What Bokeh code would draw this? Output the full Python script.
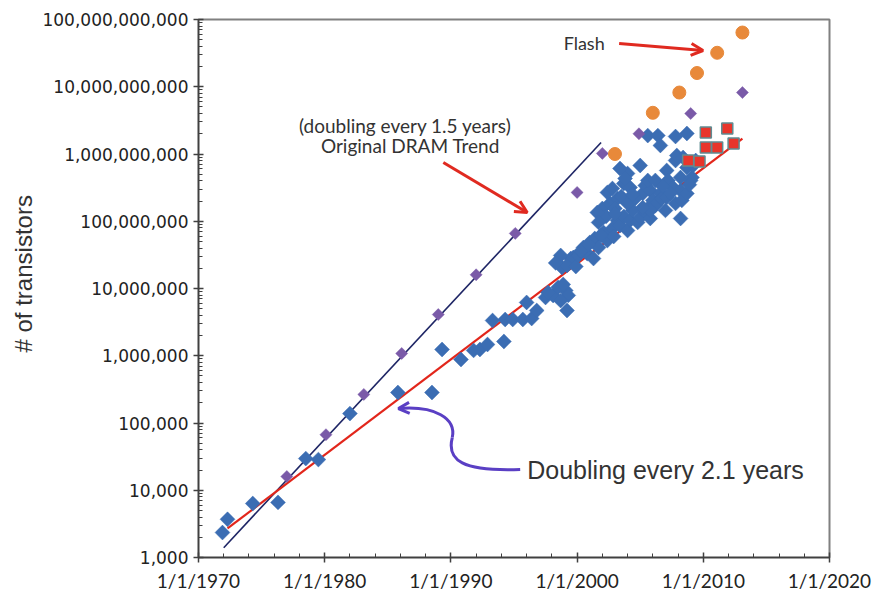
from bokeh.plotting import figure
from bokeh.models import FixedTicker, Arrow, OpenHead, Label, ColumnDataSource, Title
from bokeh.embed import file_html
from bokeh.resources import INLINE
import math

# ---------------- data ----------------
x_tick_years = [1970, 1980, 1990, 2000, 2010, 2020]
x_tick_labels = ["1/1/1970", "1/1/1980", "1/1/1990", "1/1/2000", "1/1/2010", "1/1/2020"]
x_minor_years = [1972, 1974, 1976, 1978, 1982, 1984, 1986, 1988, 1992, 1994, 1996, 1998,
                 2002, 2004, 2006, 2008, 2012, 2014, 2016, 2018]
y_tick_values = [1000, 10000, 100000, 1000000, 10000000, 100000000,
                 1000000000, 10000000000, 100000000000]
y_tick_labels = ["1,000", "10,000", "100,000", "1,000,000", "10,000,000", "100,000,000",
                 "1,000,000,000", "10,000,000,000", "100,000,000,000"]
y_title = "# of transistors"

# Original DRAM (purple diamonds)
dram_years = [1977.0, 1980.1, 1983.1, 1986.1, 1989.0, 1992.0, 1995.1, 2000.0, 2002.0, 2004.9, 2009.0, 2013.1]
dram_counts = [16e3, 67e3, 266e3, 1.08e6, 4.1e6, 16e6, 66e6, 268e6, 1.02e9, 2.0e9, 4.0e9, 8.2e9]

# Flash (orange circles)
flash_years = [2003.0, 2006.0, 2008.1, 2009.5, 2011.1, 2013.1]
flash_counts = [1.0e9, 4.1e9, 8.2e9, 16e9, 32e9, 64e9]

# Recent parts (red squares)
recent_years = [2008.8, 2009.7, 2010.2, 2011.9, 2010.2, 2011.1, 2012.4]
recent_counts = [800e6, 775e6, 2.09e9, 2.4e9, 1.25e9, 1.25e9, 1.43e9]

# Processors etc. (blue diamonds)
cpu_years = [1971.9, 1972.3, 1974.3, 1976.3, 1978.5, 1979.5, 1982.0, 1985.8, 1988.5, 1989.3,
             1990.8, 1991.8, 1992.3, 1992.9, 1994.2, 1993.3, 1994.3, 1994.9, 1995.7, 1996.4,
             1996.0, 1996.8, 1997.5, 1998.1, 1999.1, 1999.2, 1997.7, 1998.5, 1998.9, 1999.3,
             1998.7, 1998.8, 1999.5, 1999.2, 1999.7, 1999.9, 2000.1, 2000.5, 2000.8, 2001.0,
             2001.3, 2001.4, 2001.7, 2002.1, 2002.4, 2002.8, 2003.2, 2002.9, 2003.4, 2003.7,
             2004.0, 2004.2, 2004.4, 2004.8, 2005.0, 2005.4, 2005.6, 2005.8, 2006.2, 2002.0,
             2002.3, 2002.6, 2002.4, 2002.8, 2003.2, 2003.5, 2003.7, 2004.0, 2004.0, 2004.2,
             2003.4, 2003.8, 2005.0, 2005.2, 2005.4, 2005.8, 2005.6, 2006.2, 2006.0, 2006.3,
             2006.6, 2006.7, 2007.0, 2007.1, 2007.1, 2007.2, 2007.6, 2007.8, 2007.8, 2007.9,
             2008.2, 2008.2, 2008.3, 2008.4, 2008.7, 2008.7, 2009.0, 2009.1, 2009.2, 2009.4,
             2008.2, 2005.8, 2004.6, 2003.0, 2005.6, 2006.4, 2006.6, 2007.8, 2008.7, 2001.6,
             2001.7, 1998.7, 1998.3, 2000.3, 2000.9, 2001.9, 2003.0, 2004.4, 2005.2, 2006.8,
             2007.4, 2008.9]
cpu_counts = [2.35e3, 3.7e3, 6.35e3, 6.6e3, 29.6e3, 28.6e3, 138e3, 284e3, 284e3, 1.24e6,
              880e3, 1.2e6, 1.24e6, 1.47e6, 1.63e6, 3.34e6, 3.46e6, 3.46e6, 3.46e6, 3.58e6,
              6.2e6, 4.71e6, 7.35e6, 7.87e6, 9.33e6, 4.71e6, 8.73e6, 10.4e6, 11.5e6, 7.9e6,
              6.6e6, 20.5e6, 27.9e6, 22e6, 28.9e6, 21.2e6, 31e6, 40.7e6, 33.1e6, 48.3e6,
              27.9e6, 55.4e6, 40.7e6, 68e6, 51.7e6, 78e6, 103e6, 59.3e6, 86.5e6, 118e6,
              72.8e6, 103e6, 145e6, 96e6, 114e6, 135e6, 155e6, 110e6, 171e6, 155e6,
              118e6, 184e6, 268e6, 307e6, 218e6, 233e6, 364e6, 184e6, 513e6, 318e6,
              608e6, 432e6, 675e6, 259e6, 340e6, 287e6, 404e6, 404e6, 204e6, 184e6,
              259e6, 218e6, 145e6, 226e6, 569e6, 404e6, 318e6, 800e6, 184e6, 950e6,
              287e6, 448e6, 204e6, 887e6, 259e6, 630e6, 404e6, 448e6, 675e6, 800e6,
              110e6, 145e6, 218e6, 155e6, 1.88e9, 1.88e9, 1.34e9, 1.82e9, 2.02e9, 135e6,
              96e6, 31e6, 24e6, 36e6, 45e6, 62e6, 130e6, 250e6, 160e6, 330e6,
              260e6, 350e6]

# Trend lines
dram_trend_years = [1972.0, 2001.9]
dram_trend_counts = [1.4e3, 1.48e9]
moore_trend_years = [1972.3, 2013.1]
moore_trend_counts = [2.7e3, 1.7e9]

# ---------------- styles ----------------
BLUE = "#3b6db3"
PURPLE = "#7a5aa8"
ORANGE = "#e8893a"
RED = "#e8352b"
NAVY = "#1e2565"
REDLINE = "#e2261b"
ARROW_RED = "#e02a20"
CURVE = "#5a3fc4"
TEXT = "#333333"

p = figure(width=873, height=595, y_axis_type="log",
           x_range=(1970, 2020), y_range=(1e3, 1e11),
           output_backend="svg", toolbar_location=None,
           min_border_left=198, min_border_right=44, min_border_top=19, min_border_bottom=38)
p.grid.visible = False
p.outline_line_color = "#808080"
p.outline_line_width = 2
p.background_fill_color = "white"
p.border_fill_color = "white"

# axes
p.xaxis.ticker = FixedTicker(ticks=x_tick_years, minor_ticks=x_minor_years)
p.xaxis.major_label_overrides = dict(zip(x_tick_years, x_tick_labels))
p.yaxis.ticker = FixedTicker(ticks=y_tick_values,
                             minor_ticks=[m * v for v in y_tick_values[:-1] for m in range(2, 10)])
p.yaxis.major_label_overrides = dict(zip(y_tick_values, y_tick_labels))

for ax in (p.xaxis[0], p.yaxis[0]):
    ax.axis_line_color = "#404040"
    ax.axis_line_width = 1.5
    ax.major_tick_line_color = "#404040"
    ax.major_tick_line_width = 1.5
    ax.minor_tick_line_color = "#404040"
    ax.major_tick_in = 5
    ax.major_tick_out = 5
    ax.minor_tick_in = 4
    ax.minor_tick_out = 0
    ax.major_label_text_color = "#222222"

p.xaxis.major_label_text_font = "Lato"
p.xaxis.major_label_text_font_size = "19px"
p.xaxis.major_label_standoff = 6
p.yaxis.major_label_text_font = "DejaVu Sans"
p.yaxis.major_label_text_font_size = "17px"
p.yaxis.major_label_standoff = 5

# y-axis title as a side title, placed a little above the frame centre
p.add_layout(Title(text=y_title, align="left", offset=205, standoff=6,
                   text_font="Liberation Sans", text_font_size="24px",
                   text_font_style="normal", text_color=TEXT), "left")

# trend lines
p.line(dram_trend_years, dram_trend_counts, line_color=NAVY, line_width=1.6)
p.line(moore_trend_years, moore_trend_counts, line_color=REDLINE, line_width=2.2)

# points
rot = math.pi / 4
p.scatter(cpu_years, cpu_counts, marker="square", angle=rot, size=10.5,
          fill_color=BLUE, line_color=BLUE, line_width=0.5)
p.scatter(dram_years, dram_counts, marker="square", angle=rot, size=8.5,
          fill_color=PURPLE, line_color=PURPLE, line_width=0.5)
p.scatter(flash_years, flash_counts, marker="circle", size=13,
          fill_color=ORANGE, line_color=ORANGE)
p.scatter(recent_years, recent_counts, marker="square", size=11,
          fill_color=RED, line_color="#5f8c92", line_width=1.5)

# annotations
p.add_layout(Label(x=2000.56, y=45e9, text="Flash", text_font="Lato", text_font_size="18px",
                   text_color=TEXT, text_align="center", text_baseline="middle"))
p.add_layout(Arrow(end=OpenHead(line_color=ARROW_RED, line_width=3, size=12),
                   x_start=2003.33, y_start=44e9, x_end=2009.98, y_end=34.6e9,
                   line_color=ARROW_RED, line_width=3))

p.add_layout(Label(x=1986.39, y=2.65e9, text="(doubling every 1.5 years)", text_font="Lato",
                   text_font_size="19px", text_color=TEXT, text_align="center",
                   text_baseline="middle"))
p.add_layout(Label(x=1986.79, y=1.34e9, text="Original DRAM Trend", text_font="Lato",
                   text_font_size="19px", text_color=TEXT, text_align="center",
                   text_baseline="middle"))
p.add_layout(Arrow(end=OpenHead(line_color=ARROW_RED, line_width=3, size=12),
                   x_start=1989.40, y_start=748e6, x_end=1996.05, y_end=135e6,
                   line_color=ARROW_RED, line_width=3))

p.add_layout(Label(x=1996.05, y=19.7e3, text="Doubling every 2.1 years",
                   text_font="Liberation Sans", text_font_size="25px", text_color=TEXT,
                   text_align="left", text_baseline="middle"))
curve = ColumnDataSource(dict(
    x0=[1995.49, 1990.11], y0=[20.4e3, 60.8e3],
    x1=[1990.11, 1985.84], y1=[60.8e3, 164e3],
    cx0=[1990.90, 1990.43], cy0=[19.0e3, 117e3],
    cx1=[1989.64, 1988.76], cy1=[27.7e3, 182e3]))
p.bezier(x0="x0", y0="y0", x1="x1", y1="y1", cx0="cx0", cy0="cy0", cx1="cx1", cy1="cy1",
         source=curve, line_color=CURVE, line_width=3)
p.add_layout(Arrow(end=OpenHead(line_color=CURVE, line_width=3, size=11),
                   x_start=1986.3, y_start=166e3, x_end=1985.84, y_end=164e3,
                   line_color=CURVE, line_width=3))

open("out.html", "w").write(file_html(p, INLINE))
